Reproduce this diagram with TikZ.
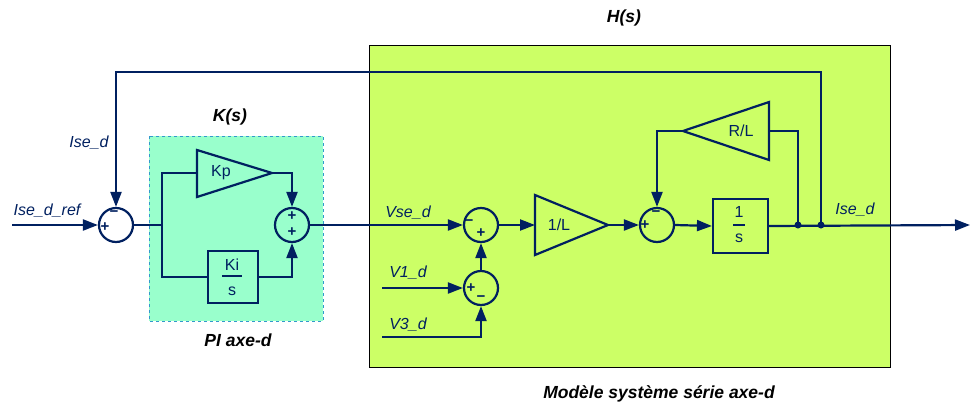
\documentclass[tikz,border=0pt]{standalone}
\usepackage{fontspec}
\setmainfont{Liberation Sans}
\usetikzlibrary{arrows.meta}
\definecolor{navy}{RGB}{0,32,96}
\definecolor{hgreen}{RGB}{204,255,102}
\definecolor{kcyan}{RGB}{153,255,204}
\definecolor{kborder}{RGB}{51,153,204}
\begin{document}
\begin{tikzpicture}[x=1pt,y=-1pt,
 wire/.style={navy,line width=2.2pt},
 sig/.style={wire,-{Triangle[length=15pt,width=11pt]}},
 sumnode/.style={circle,draw=navy,line width=2.2pt,minimum size=34pt,inner sep=0pt},
 blk/.style={draw=navy,line width=2.2pt,inner sep=0pt},
 lbl/.style={text=navy,font=\fontsize{16}{16}\selectfont\itshape,inner sep=0pt},
 gl/.style={text=navy,font=\fontsize{16}{16}\selectfont,inner sep=0pt},
 ttl/.style={font=\fontsize{17.5}{17.5}\selectfont\bfseries\itshape,inner sep=0pt},
 sgn/.style={text=navy,font=\fontsize{15}{15}\selectfont\bfseries,inner sep=0pt},
 jdot/.style={circle,fill=navy,inner sep=0pt,minimum size=7pt}]

\useasboundingbox (0,0) rectangle (970,405);
\fill[white] (0,0) rectangle (970,405);

% regions
\draw[fill=hgreen,line width=1pt] (369,45) rectangle (890,367);
\draw[fill=kcyan,draw=kborder,dashed,line width=1pt] (149,136) rectangle (323,321);

% titles
\node[ttl] (hs) at (624,18) {H(s)};
\node[ttl] (ks) at (230,117) {K(s)};
\node[ttl] (pi) at (238,340) {PI axe-d};
\node[ttl] (mod) at (659,394) {Modèle système série axe-d};

% summing junctions
\node[sumnode] (s1) at (116,225) {};
\node[sumnode] (s2) at (292,225) {};
\node[sumnode] (s3) at (481,225) {};
\node[sumnode] (s4) at (481,288) {};
\node[sumnode] (s5) at (657,225) {};

\node[sgn] (s1p) at (105,227) {+};
\node[sgn] (s1m) at (114,214) {\textminus};
\node[sgn] (s2a) at (292,216) {+};
\node[sgn] (s2b) at (292,232) {+};
\node[sgn] (s3m) at (469,223) {\textminus};
\node[sgn] (s3p) at (481,233) {+};
\node[sgn] (s4p) at (471,288) {+};
\node[sgn] (s4m) at (481,299) {\textminus};
\node[sgn] (s5p) at (645,225) {+};
\node[sgn] (s5m) at (656,214) {\textminus};

% Kp gain
\draw[wire] (197,150) -- (272,173) -- (197,197) -- cycle;
\coordinate (kpin) at (197,173);
\coordinate (kptip) at (272,173);
\node[gl] (kp) at (221,173) {Kp};

% Ki/s block
\node[blk,minimum width=50pt,minimum height=52pt] (ki) at (233,277) {};
\node[gl] (kinum) at (232,265) {Ki};
\node[gl] (kiden) at (232,291) {s};
\draw[navy,line width=1.5pt] (222,276) -- (242,276);

% 1/L gain
\draw[wire] (535,195) -- (608,225) -- (535,255) -- cycle;
\coordinate (lin) at (535,225);
\coordinate (ltip) at (608,225);
\node[gl] (linv) at (559,225) {1/L};

% 1/s block
\node[blk,minimum width=55pt,minimum height=54pt] (ints) at (740.5,226) {};
\node[gl] (one) at (739,212) {1};
\node[gl] (ess) at (739,238) {s};
\draw[navy,line width=1.5pt] (733,225) -- (745,225);

% R/L gain
\draw[wire] (769,102) -- (683,131) -- (769,160) -- cycle;
\coordinate (rlbase) at (769,131);
\coordinate (rltip) at (683,131);
\node[gl] (rl) at (741,131) {R/L};

% junction dots
\node[jdot] (rldot) at (798,225) {};
\node[jdot] (fbdot) at (821,225) {};

% coordinates
\coordinate (in) at (12,225);
\coordinate (br) at (162,225);
\coordinate (fbtop) at (821,72);
\coordinate (v1) at (382,288);
\coordinate (v3) at (382,337);
\coordinate (out) at (970,225);

% connectors
\draw[sig] (in) -- (s1.west);
\draw[sig] (fbdot.center) -- (fbtop) -| (s1.north);
\draw[wire] (s1.east) -- (br);
\draw[wire] (br) |- (kpin);
\draw[wire] (br) |- (ki.west);
\draw[sig] (kptip) -| (s2.north);
\draw[sig] (ki.east) -| (s2.south);
\draw[sig] (s2.east) -- (s3.west);
\draw[sig] (v1) -- (s4.west);
\draw[sig] (v3) -| (s4.south);
\draw[sig] (s4.north) -- (s3.south);
\draw[sig] (s3.east) -- (lin);
\draw[sig] (ltip) -- (s5.west);
\draw[sig] (s5.east) -- (ints.west);
\draw[sig] (ints.east) -- (out);
\draw[wire] (rlbase) -| (rldot.center);
\draw[sig] (rltip) -| (s5.north);

% signal labels
\node[lbl] (lref) at (47,211) {Ise\_d\_ref};
\node[lbl] (lfb) at (89,143) {Ise\_d};
\node[lbl] (lvse) at (408,213) {Vse\_d};
\node[lbl] (lv1) at (408,273) {V1\_d};
\node[lbl] (lv3) at (408,325) {V3\_d};
\node[lbl] (lout) at (855,210) {Ise\_d};
\end{tikzpicture}
\end{document}
